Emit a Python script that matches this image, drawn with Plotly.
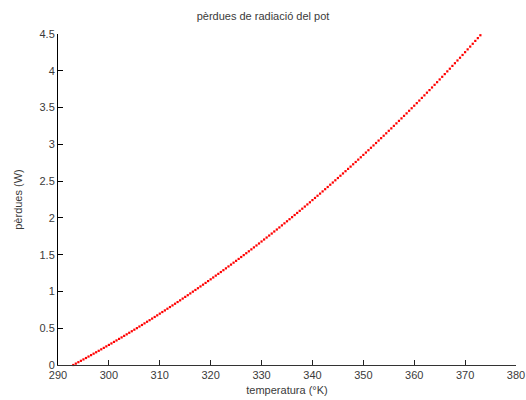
import plotly.graph_objects as go

# pèrdues de radiació (W) every 0.5 K from 293 K to 373 K
perdues = [
    0.000, 0.019, 0.038, 0.057, 0.076, 0.095, 0.115, 0.134, 0.154, 0.173,
    0.193, 0.213, 0.233, 0.253, 0.273, 0.293, 0.314, 0.334, 0.355, 0.375,
    0.396, 0.417, 0.438, 0.459, 0.480, 0.501, 0.523, 0.544, 0.566, 0.588,
    0.609, 0.631, 0.653, 0.675, 0.698, 0.720, 0.742, 0.765, 0.788, 0.810,
    0.833, 0.856, 0.879, 0.903, 0.926, 0.949, 0.973, 0.997, 1.020, 1.044,
    1.068, 1.092, 1.116, 1.141, 1.165, 1.190, 1.215, 1.239, 1.264, 1.289,
    1.314, 1.340, 1.365, 1.391, 1.416, 1.442, 1.468, 1.494, 1.520, 1.546,
    1.572, 1.599, 1.625, 1.652, 1.679, 1.706, 1.733, 1.760, 1.787, 1.815,
    1.842, 1.870, 1.898, 1.926, 1.954, 1.982, 2.010, 2.039, 2.067, 2.096,
    2.125, 2.154, 2.183, 2.212, 2.242, 2.271, 2.301, 2.330, 2.360, 2.390,
    2.420, 2.451, 2.481, 2.511, 2.542, 2.573, 2.604, 2.635, 2.666, 2.697,
    2.729, 2.760, 2.792, 2.824, 2.856, 2.888, 2.920, 2.953, 2.985, 3.018,
    3.051, 3.084, 3.117, 3.150, 3.184, 3.217, 3.251, 3.285, 3.319, 3.353,
    3.387, 3.421, 3.456, 3.491, 3.525, 3.560, 3.595, 3.631, 3.666, 3.702,
    3.737, 3.773, 3.809, 3.845, 3.882, 3.918, 3.955, 3.992, 4.028, 4.066,
    4.103, 4.140, 4.177, 4.215, 4.253, 4.291, 4.329, 4.367, 4.406, 4.444,
    4.483,
]
t_inici = 293.0
t_pas = 0.5
temperatura = [t_inici + t_pas * i for i in range(len(perdues))]

x_ticks = [290, 300, 310, 320, 330, 340, 350, 360, 370, 380]
y_ticks = [0, 0.5, 1, 1.5, 2, 2.5, 3, 3.5, 4, 4.5]
y_ticklabels = ["0", "0.5", "1", "1.5", "2", "2.5", "3", "3.5", "4", "4.5"]

font_family = "Liberation Sans, Arial, sans-serif"
text_color = "#3a3a3a"

fig = go.Figure()
fig.add_trace(go.Scatter(
    x=temperatura, y=perdues, mode="markers",
    marker=dict(color="#ff0000", size=2.2, symbol="square", line=dict(width=0)),
    cliponaxis=False, showlegend=False,
))

fig.update_layout(
    width=526, height=400,
    margin=dict(l=58, r=10, t=34, b=35, autoexpand=False),
    paper_bgcolor="white", plot_bgcolor="white",
    font=dict(family=font_family, size=11, color=text_color),
    title=dict(text="pèrdues de radiació del pot", x=0.5, xanchor="center",
               y=1 - 16 / 400, yanchor="middle",
               font=dict(size=11, color=text_color, family=font_family)),
)
fig.update_xaxes(
    range=[290, 380], tickvals=x_ticks, ticks="inside", ticklen=5,
    tickcolor="#222222", showline=True, linecolor="#333333", linewidth=1,
    showgrid=False, zeroline=False, automargin=False,
    title=dict(text="temperatura (°K)", standoff=6, font=dict(size=11)),
    tickfont=dict(size=11),
)
fig.update_yaxes(
    range=[0, 4.5], tickvals=y_ticks, ticktext=y_ticklabels, ticks="inside",
    ticklen=5, tickcolor="#000000", showline=True, linecolor="#000000",
    linewidth=1, showgrid=False, zeroline=False, automargin=False,
    title=dict(text="pèrdues (W)", standoff=14, font=dict(size=11)),
    tickfont=dict(size=11),
)

fig.write_html("out.html",
               config={"displayModeBar": False},
               post_script="document.body.style.margin='0';")
